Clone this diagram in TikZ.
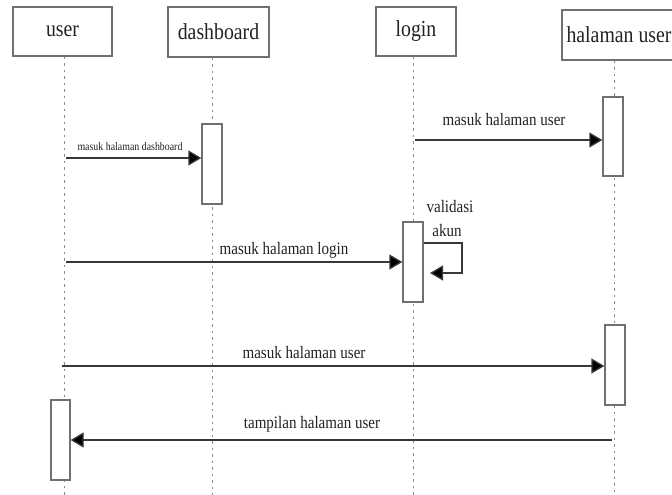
\documentclass[tikz,border=0pt]{standalone}
\usepackage{fontspec}
\setmainfont{Liberation Serif}[FakeStretch=0.86]
\usetikzlibrary{arrows.meta}
\definecolor{boxgray}{HTML}{707070}
\definecolor{lifegray}{HTML}{8A8A8A}
\definecolor{linegray}{HTML}{383838}
\definecolor{txtgray}{HTML}{222222}
\begin{document}
\begin{tikzpicture}[x=1pt,y=-1pt,
  hdr/.style={draw=boxgray, line width=1.3pt, fill=white, inner sep=0pt, text=txtgray,
    font=\fontsize{23}{23}\selectfont},
  act/.style={draw=boxgray, line width=1.3pt, fill=white, minimum width=20pt, minimum height=80pt, inner sep=0pt},
  life/.style={draw=lifegray, line width=1pt, dash pattern=on 2.5pt off 4pt},
  msg/.style={draw=linegray, line width=1.3pt, -{Triangle[length=13pt,width=15pt,fill=black]}},
  lbl/.style={inner sep=0pt, text=txtgray, font=\fontsize{17.5}{17.5}\selectfont},
  slbl/.style={inner sep=0pt, text=txtgray, font=\fontsize{11.5}{11.5}\selectfont}
]
\useasboundingbox (0,0) rectangle (672,495);
\fill[white] (0,0) rectangle (672,495);

% headers
\node[hdr, minimum width=99pt, minimum height=49pt] (user) at (62.5,31.5) {user};
\node[hdr, minimum width=101pt, minimum height=50pt] (dash) at (218.5,32) {dashboard};
\node[hdr, minimum width=80pt, minimum height=49pt] (login) at (416,31.5) {login};
\node[hdr, minimum width=114pt, minimum height=50pt] (hal) at (619,35) {halaman user};

% lifeline ends
\coordinate (uEnd) at (64,495);
\coordinate (dEnd) at (212,495);
\coordinate (lEnd) at (413,495);
\coordinate (hEnd) at (614,495);
\draw[life] (user.south -| uEnd) -- (uEnd);
\draw[life] (dash.south -| dEnd) -- (dEnd);
\draw[life] (login.south -| lEnd) -- (lEnd);
\draw[life] (hal.south -| hEnd) -- (hEnd);

% activations
\node[act] (a1) at (212,164) {};
\node[act, minimum height=79pt] (a2) at (613,136.5) {};
\node[act] (a3) at (413,262) {};
\node[act] (a4) at (615,365) {};
\node[act, minimum width=19pt] (a5) at (60.5,440) {};

% messages
\coordinate (m1s) at (66,158);
\draw[msg] (m1s) -- (m1s -| a1.west);
\node[slbl] (l1) at (130,147) {masuk halaman dashboard};

\coordinate (m2s) at (415,140);
\draw[msg] (m2s) -- (m2s -| a2.west);
\node[lbl] (l2) at (504,120) {masuk halaman user};

\coordinate (s1) at (a3.east |- 0,243);
\coordinate (s2) at (462,243);
\coordinate (s3) at (462,273);
\coordinate (s4) at (430,273);
\draw[msg] (s1) -- (s2) -- (s3) -- (s4);
\node[lbl] (l3a) at (450,207) {validasi};
\node[lbl] (l3b) at (447,231) {akun};

\coordinate (m3s) at (66,262);
\draw[msg] (m3s) -- (m3s -| a3.west);
\node[lbl] (l4) at (284,250) {masuk halaman login};

\coordinate (m4s) at (62,366);
\draw[msg] (m4s) -- (m4s -| a4.west);
\node[lbl] (l5) at (304,353) {masuk halaman user};

\coordinate (m5s) at (612,440);
\draw[msg] (m5s) -- (m5s -| a5.east);
\node[lbl] (l6) at (312,424) {tampilan halaman user};
\end{tikzpicture}
\end{document}
